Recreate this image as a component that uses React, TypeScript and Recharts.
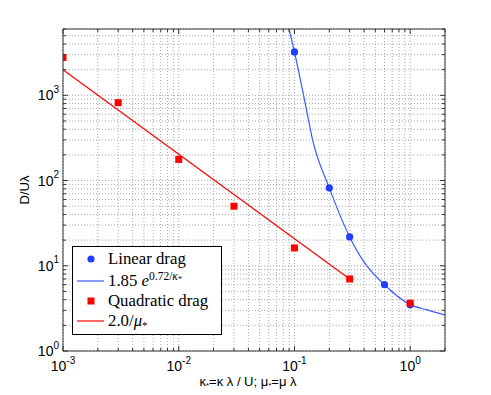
import React from 'react';
import { ComposedChart, Line, Scatter, XAxis, YAxis, CartesianGrid, Legend } from 'recharts';

const linearDragX = [0.1, 0.2, 0.3, 0.6, 1.0];
const linearDragY = [3230, 82, 21.8, 6.0, 3.5];

const quadDragX = [0.001, 0.003, 0.01, 0.03, 0.1, 0.3, 1.0];
const quadDragY = [2780, 820, 177, 50, 16.2, 7.0, 3.64];

// Fitted curve 1.85 e^{0.72/kappa}
const linearFitX = [0.0898, 0.1, 0.12, 0.1455, 0.2, 0.25, 0.3, 0.386, 0.6, 1.0, 1.4, 2.0];
const linearFitY = [6000, 3230, 1000, 278, 82, 38, 21.8, 11.8, 5.98, 3.5, 3.04, 2.65];

// Fit line 2.0/mu
const quadFitX = [0.001, 0.3];
const quadFitY = [2000, 7.0];

// Axis ranges / ticks
const xDomain = [0.001, 2];
const yDomain = [1, 6000];
const xDecades = [0.001, 0.01, 0.1, 1];
const yDecades = [1, 10, 100, 1000];

const pts = (xs: number[], ys: number[]) => xs.map((x, i) => ({ x, y: ys[i] }));

const buildTicks = (decades: number[], max: number) => {
  const out: number[] = [];
  decades.forEach((d) => {
    for (let k = 1; k <= 9; k++) {
      const v = parseFloat((k * d).toPrecision(6));
      if (v <= max + 1e-9) out.push(v);
    }
  });
  return out;
};
const xTicks = buildTicks(xDecades, xDomain[1]);
const yTicks = buildTicks(yDecades, yDomain[1]);

const isMajor = (v: number) => Math.abs(Math.log10(v) - Math.round(Math.log10(v))) < 1e-6;

const AX = '#333';
const BLUE_PT = '#1f3cff';
const BLUE_LN = '#3a5bff';
const RED = '#ff0000';
const SANS = 'Liberation Sans, Arial, sans-serif';
const SERIF = 'Liberation Serif, Times New Roman, serif';

const Pow = ({ x, y, v, anchor }: any) => {
  const e = Math.round(Math.log10(v));
  return (
    <text x={x} y={y} textAnchor={anchor} fontFamily={SANS} fontSize={14} fill="#000">
      10
      <tspan dy={-7.5} fontSize={10}>{e < 0 ? '-' + Math.abs(e) : String(e)}</tspan>
    </text>
  );
};

const XTickBottom = (props: any) => {
  const { x, y, payload } = props;
  const v = payload.value;
  const major = isMajor(v);
  return (
    <g>
      <line x1={x} x2={x} y1={y} y2={y - (major ? 5 : 3)} stroke={AX} />
      {major && <Pow x={x} y={y + 20} v={v} anchor="middle" />}
    </g>
  );
};
const XTickTop = (props: any) => {
  const { x, y, payload } = props;
  const major = isMajor(payload.value);
  return <line x1={x} x2={x} y1={y} y2={y + (major ? 5 : 3)} stroke={AX} />;
};
const YTickLeft = (props: any) => {
  const { x, y, payload } = props;
  const v = payload.value;
  const major = isMajor(v);
  return (
    <g>
      <line x1={x} x2={x + (major ? 5 : 3)} y1={y} y2={y} stroke={AX} />
      {major && <Pow x={x - 4} y={y + 5} v={v} anchor="end" />}
    </g>
  );
};
const YTickRight = (props: any) => {
  const { x, y, payload } = props;
  const major = isMajor(payload.value);
  return <line x1={x} x2={x - (major ? 5 : 3)} y1={y} y2={y} stroke={AX} />;
};

const XLabel = (props: any) => {
  const vb = props.viewBox || { x: 63, y: 351, width: 382, height: 44 };
  const cx = vb.x + vb.width / 2 - 6;
  const cy = vb.y + 35;
  return (
    <text x={cx} y={cy} textAnchor="middle" fontFamily={SANS} fontSize={13} fill="#000">
      κ<tspan dy={2} fontSize={8}>*</tspan>
      <tspan dy={-2}>=κ λ / U; μ</tspan>
      <tspan dy={2} fontSize={8}>*</tspan>
      <tspan dy={-2}>=μ λ</tspan>
    </text>
  );
};

const YLabel = (props: any) => {
  const vb = props.viewBox || { x: 0, y: 29, width: 63, height: 322 };
  const cx = 24;
  const cy = vb.y + vb.height / 2;
  return (
    <text x={cx} y={cy} transform={`rotate(-90 ${cx} ${cy})`} textAnchor="middle" dominantBaseline="central" fontFamily={SANS} fontSize={13} fill="#000">
      D/Uλ
    </text>
  );
};

const Circle = (p: any) => <circle cx={p.cx} cy={p.cy} r={3.6} fill={BLUE_PT} />;
const Square = (p: any) => <rect x={p.cx - 3.5} y={p.cy - 3.5} width={7} height={7} fill={RED} />;

const rowStyle = (center: number): React.CSSProperties => ({
  position: 'absolute',
  left: 0,
  top: center - 10,
  height: 20,
  width: '100%',
  display: 'flex',
  alignItems: 'center',
  whiteSpace: 'nowrap',
});

const Marker = ({ kind }: { kind: string }) => (
  <svg width={34} height={20} style={{ flex: 'none' }}>
    {kind === 'circle' && <circle cx={18} cy={10} r={3.6} fill={BLUE_PT} />}
    {kind === 'bline' && <line x1={4} x2={31} y1={10} y2={10} stroke={BLUE_LN} strokeWidth={1.2} />}
    {kind === 'square' && <rect x={14.5} y={6.5} width={7} height={7} fill={RED} />}
    {kind === 'rline' && <line x1={4} x2={31} y1={10} y2={10} stroke={RED} strokeWidth={1.2} />}
  </svg>
);

const LegendBox = () => (
  <div
    style={{
      position: 'relative',
      width: 150,
      height: 89,
      boxSizing: 'border-box',
      border: '1px solid #000',
      background: '#fff',
      fontFamily: SERIF,
      fontSize: 16.8,
      color: '#000',
    }}
  >
    <div style={rowStyle(12)}>
      <Marker kind="circle" />
      <span style={{ marginLeft: 1 }}>Linear drag</span>
    </div>
    <div style={rowStyle(34)}>
      <Marker kind="bline" />
      <span style={{ marginLeft: 1 }}>
        1.85 <i>e</i>
        <span style={{ fontSize: 11.5, position: 'relative', top: -6 }}>
          0.72/<i>κ</i>
          <span style={{ fontSize: 8, position: 'relative', top: 2 }}>*</span>
        </span>
      </span>
    </div>
    <div style={rowStyle(54)}>
      <Marker kind="square" />
      <span style={{ marginLeft: 1 }}>Quadratic drag</span>
    </div>
    <div style={rowStyle(74)}>
      <Marker kind="rline" />
      <span style={{ marginLeft: 1 }}>
        2.0/<i>μ</i>
        <span style={{ fontSize: 11, position: 'relative', top: 3 }}>*</span>
      </span>
    </div>
  </div>
);

export default function App() {
  return (
    <div style={{ position: 'absolute', left: 0, top: 0, width: 491, height: 395, background: '#fff' }}>
      <ComposedChart width={491} height={395} margin={{ top: 0, right: 0, bottom: 0, left: 0 }}>
        <CartesianGrid xAxisId="b" yAxisId="l" stroke="#a8a8a8" strokeDasharray="1 2" fill="#fff" />
        <XAxis
          xAxisId="b"
          dataKey="x"
          type="number"
          scale="log"
          domain={xDomain}
          allowDataOverflow
          ticks={xTicks}
          interval={0}
          orientation="bottom"
          height={44}
          tickSize={0}
          tickMargin={0}
          tickLine={false}
          tick={<XTickBottom />}
          axisLine={{ stroke: AX }}
          label={<XLabel />}
        />
        <XAxis
          xAxisId="t"
          dataKey="x"
          type="number"
          scale="log"
          domain={xDomain}
          allowDataOverflow
          ticks={xTicks}
          interval={0}
          orientation="top"
          height={29}
          tickSize={0}
          tickMargin={0}
          tickLine={false}
          tick={<XTickTop />}
          axisLine={{ stroke: AX }}
        />
        <YAxis
          yAxisId="l"
          type="number"
          scale="log"
          domain={yDomain}
          allowDataOverflow
          ticks={yTicks}
          interval={0}
          orientation="left"
          width={63}
          tickSize={0}
          tickMargin={0}
          tickLine={false}
          tick={<YTickLeft />}
          axisLine={{ stroke: AX }}
          label={<YLabel />}
        />
        <YAxis
          yAxisId="r"
          type="number"
          scale="log"
          domain={yDomain}
          allowDataOverflow
          ticks={yTicks}
          interval={0}
          orientation="right"
          width={46}
          tickSize={0}
          tickMargin={0}
          tickLine={false}
          tick={<YTickRight />}
          axisLine={{ stroke: AX }}
        />
        <Line
          xAxisId="b"
          yAxisId="l"
          data={pts(linearFitX, linearFitY)}
          dataKey="y"
          type="monotone"
          stroke={BLUE_LN}
          strokeWidth={1.2}
          dot={false}
          activeDot={false}
          isAnimationActive={false}
          name="1.85 e^{0.72/κ*}"
        />
        <Scatter
          xAxisId="b"
          yAxisId="l"
          data={pts(linearDragX, linearDragY)}
          dataKey="y"
          shape={<Circle />}
          isAnimationActive={false}
          name="Linear drag"
        />
        <Line
          xAxisId="b"
          yAxisId="l"
          data={pts(quadFitX, quadFitY)}
          dataKey="y"
          type="linear"
          stroke={RED}
          strokeWidth={1.2}
          dot={false}
          activeDot={false}
          isAnimationActive={false}
          name="2.0/μ*"
        />
        <Scatter
          xAxisId="b"
          yAxisId="l"
          data={pts(quadDragX, quadDragY)}
          dataKey="y"
          shape={<Square />}
          isAnimationActive={false}
          name="Quadratic drag"
        />
        <Legend
          layout="vertical"
          align="center"
          verticalAlign="middle"
          content={<LegendBox />}
          wrapperStyle={{ position: 'absolute', left: 72, top: 246, width: 150, height: 89, bottom: 'auto', right: 'auto', margin: 0 }}
        />
      </ComposedChart>
    </div>
  );
}
